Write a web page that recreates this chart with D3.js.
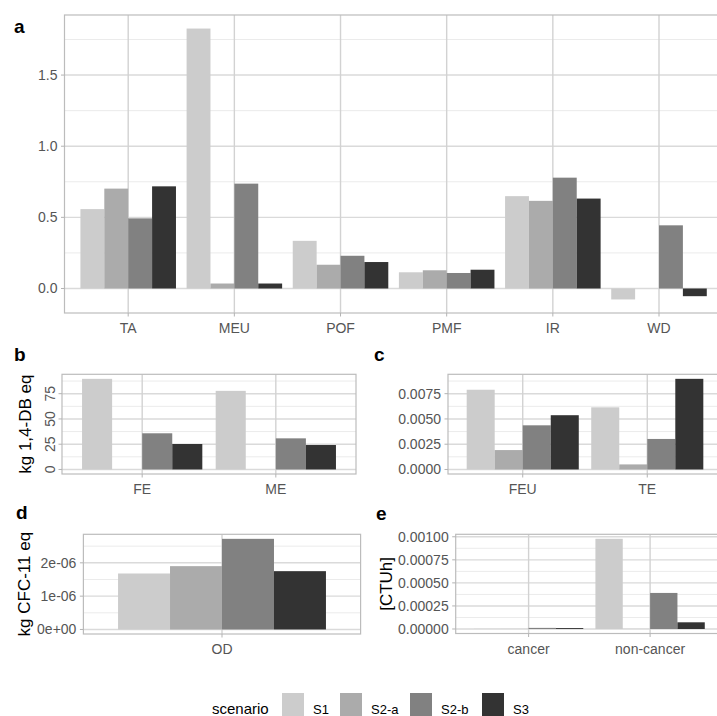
<!DOCTYPE html>
<html><head><meta charset="utf-8">
<script src="https://cdn.jsdelivr.net/npm/d3@7"></script>
<style>
html,body{margin:0;padding:0;background:#fff;overflow:hidden;}
svg{display:block;font-family:"Liberation Sans",Arial,Helvetica,sans-serif;}
</style></head>
<body>
<script>
// ---------- data ----------
const scenarios = ["S1", "S2-a", "S2-b", "S3"];
const scenarioColors = ["#CCCCCC", "#ABABAB", "#818181", "#333333"];

const catsA = ["TA", "MEU", "POF", "PMF", "IR", "WD"];
const aS1  = [0.558, 1.827, 0.335, 0.114, 0.649, -0.077];
const aS2a = [0.702, 0.035, 0.167, 0.128, 0.616, 0];
const aS2b = [0.493, 0.737, 0.230, 0.109, 0.779, 0.444];
const aS3  = [0.718, 0.035, 0.186, 0.132, 0.632, -0.054];
const ticksA = [0, 0.5, 1.0, 1.5];
const tickLabelsA = ["0.0", "0.5", "1.0", "1.5"];
const minorA = [0.25, 0.75, 1.25, 1.75];

const catsB = ["FE", "ME"];
const bS1  = [89.7, 77.8];
const bS2a = [0, 0];
const bS2b = [35.8, 30.8];
const bS3  = [25.2, 24.2];
const ticksB = [0, 25, 50, 75];
const tickLabelsB = ["0", "25", "50", "75"];
const minorB = [12.5, 37.5, 62.5, 87.5];

const catsC = ["FEU", "TE"];
const cS1  = [0.00789, 0.00615];
const cS2a = [0.00192, 0.00050];
const cS2b = [0.00437, 0.00302];
const cS3  = [0.00537, 0.00897];
const ticksC = [0, 0.0025, 0.005, 0.0075];
const tickLabelsC = ["0.0000", "0.0025", "0.0050", "0.0075"];
const minorC = [0.00125, 0.00375, 0.00625, 0.00875];

const catsD = ["OD"];
const dS1  = [1.68e-6];
const dS2a = [1.90e-6];
const dS2b = [2.72e-6];
const dS3  = [1.75e-6];
const ticksD = [0, 1e-6, 2e-6];
const tickLabelsD = ["0e+00", "1e-06", "2e-06"];
const minorD = [0.5e-6, 1.5e-6, 2.5e-6];

const catsE = ["cancer", "non-cancer"];
const eS1  = [0.000002, 0.000978];
const eS2a = [0.000001, 0.000001];
const eS2b = [0.000012, 0.000391];
const eS3  = [0.000010, 0.0000725];
const ticksE = [0, 0.00025, 0.0005, 0.00075, 0.001];
const tickLabelsE = ["0.00000", "0.00025", "0.00050", "0.00075", "0.00100"];
const minorE = [0.000125, 0.000375, 0.000625, 0.000875];

// ---------- drawing ----------
const W = 717, H = 716;
const svg = d3.select("body").append("svg").attr("width", W).attr("height", H);

const TICK_FS = 14, TITLE_FS = 17;
const textCol = "#555555";

function panel(cfg) {
  const {left, right, top, bottom, cats, series, ticks, tickLabels, minor, title, titleX, rotY} = cfg;
  const all = series.flat();
  const lo0 = Math.min(0, d3.min(all)), hi0 = Math.max(0, d3.max(all));
  const ext = (hi0 - lo0) * 0.05;
  const y = d3.scaleLinear().domain([lo0 - ext, hi0 + ext]).range([bottom, top]);
  const x = d3.scaleBand().domain(cats).range([left, right]).paddingInner(0.1).paddingOuter(0.15);
  const xs = d3.scaleBand().domain(scenarios).range([0, x.bandwidth()]);
  const g = svg.append("g");
  const clipId = "clip" + Math.round(left) + "_" + Math.round(top);
  svg.append("clipPath").attr("id", clipId).append("rect")
    .attr("x", left).attr("y", top).attr("width", right - left).attr("height", bottom - top);
  const pg = g.append("g").attr("clip-path", `url(#${clipId})`);
  // minor grid
  pg.selectAll(".mn").data(minor).join("line")
    .attr("x1", left).attr("x2", right).attr("y1", d => y(d)).attr("y2", d => y(d))
    .attr("stroke", "#ebebeb").attr("stroke-width", 1);
  // major grid
  pg.selectAll(".mj").data(ticks).join("line")
    .attr("x1", left).attr("x2", right).attr("y1", d => y(d)).attr("y2", d => y(d))
    .attr("stroke", "#dadada").attr("stroke-width", 1.4);
  pg.selectAll(".vg").data(cats).join("line")
    .attr("x1", d => x(d) + x.bandwidth() / 2).attr("x2", d => x(d) + x.bandwidth() / 2)
    .attr("y1", top).attr("y2", bottom)
    .attr("stroke", "#d2d2d2").attr("stroke-width", 1.4);
  // bars
  scenarios.forEach((s, si) => {
    pg.selectAll(".b" + si).data(cats.map((c, ci) => ({c, v: series[si][ci]}))).join("rect")
      .attr("x", d => x(d.c) + xs(s))
      .attr("width", xs.bandwidth())
      .attr("y", d => Math.min(y(0), y(d.v)))
      .attr("height", d => Math.abs(y(d.v) - y(0)))
      .attr("fill", scenarioColors[si]);
  });
  // border
  g.append("rect").attr("x", left).attr("y", top).attr("width", right - left).attr("height", bottom - top)
    .attr("fill", "none").attr("stroke", "#bcbcbc").attr("stroke-width", 1.2);
  // y ticks
  g.selectAll(".yt").data(ticks).join("line")
    .attr("x1", left - 3.5).attr("x2", left).attr("y1", d => y(d)).attr("y2", d => y(d))
    .attr("stroke", "#b3b3b3");
  if (rotY) {
    g.selectAll(".yl").data(ticks).join("text")
      .attr("transform", d => `translate(${left - 7},${y(d)}) rotate(-90)`)
      .attr("text-anchor", "middle").attr("dy", "0em")
      .attr("font-size", TICK_FS).attr("fill", textCol)
      .text((d, i) => tickLabels[i]);
  } else {
    g.selectAll(".yl").data(ticks).join("text")
      .attr("x", left - 7).attr("y", d => y(d)).attr("dy", "0.35em")
      .attr("text-anchor", "end").attr("font-size", TICK_FS).attr("fill", textCol)
      .text((d, i) => tickLabels[i]);
  }
  // x ticks
  g.selectAll(".xt").data(cats).join("line")
    .attr("x1", d => x(d) + x.bandwidth() / 2).attr("x2", d => x(d) + x.bandwidth() / 2)
    .attr("y1", bottom).attr("y2", bottom + 3.5).attr("stroke", "#b3b3b3");
  g.selectAll(".xl").data(cats).join("text")
    .attr("x", d => x(d) + x.bandwidth() / 2).attr("y", bottom + 20)
    .attr("text-anchor", "middle").attr("font-size", TICK_FS).attr("fill", textCol)
    .text(d => d);
  if (title) {
    g.append("text")
      .attr("transform", `translate(${titleX},${(top + bottom) / 2}) rotate(-90)`)
      .attr("text-anchor", "middle").attr("font-size", TITLE_FS).attr("fill", "#000")
      .text(title);
  }
}

panel({left: 64.5, right: 722.7, top: 15, bottom: 313, cats: catsA,
  series: [aS1, aS2a, aS2b, aS3], ticks: ticksA, tickLabels: tickLabelsA, minor: minorA});
panel({left: 62, right: 356, top: 374.3, bottom: 474, cats: catsB,
  series: [bS1, bS2a, bS2b, bS3], ticks: ticksB, tickLabels: tickLabelsB, minor: minorB,
  title: "kg 1,4-DB eq", titleX: 31, rotY: true});
panel({left: 448, right: 722, top: 374.3, bottom: 474, cats: catsC,
  series: [cS1, cS2a, cS2b, cS3], ticks: ticksC, tickLabels: tickLabelsC, minor: minorC});
panel({left: 83.4, right: 360.6, top: 534.3, bottom: 634, cats: catsD,
  series: [dS1, dS2a, dS2b, dS3], ticks: ticksD, tickLabels: tickLabelsD, minor: minorD,
  title: "kg CFC-11 eq", titleX: 30});
panel({left: 455.7, right: 723, top: 534.3, bottom: 633.5, cats: catsE,
  series: [eS1, eS2a, eS2b, eS3], ticks: ticksE, tickLabels: tickLabelsE, minor: minorE,
  title: "[CTUh]", titleX: 392});

// panel tags
const tags = [["a", 14, 33], ["b", 14, 361], ["c", 374, 361], ["d", 16, 519], ["e", 376, 520]];
svg.selectAll(".tag").data(tags).join("text")
  .attr("x", d => d[1]).attr("y", d => d[2])
  .attr("font-size", 19).attr("font-weight", "bold").attr("fill", "#000")
  .text(d => d[0]);

// legend
const legendKeyX = [282, 340, 410, 482];
const lg = svg.append("g");
lg.append("text").attr("x", 212).attr("y", 714).attr("font-size", 15).attr("fill", "#000").text("scenario");
scenarios.forEach((s, i) => {
  lg.append("rect").attr("x", legendKeyX[i]).attr("y", 693).attr("width", 22).attr("height", 24)
    .attr("fill", scenarioColors[i]);
  lg.append("text").attr("x", legendKeyX[i] + 31).attr("y", 714).attr("font-size", 13)
    .attr("fill", "#000").text(s);
});
</script>
</body></html>
